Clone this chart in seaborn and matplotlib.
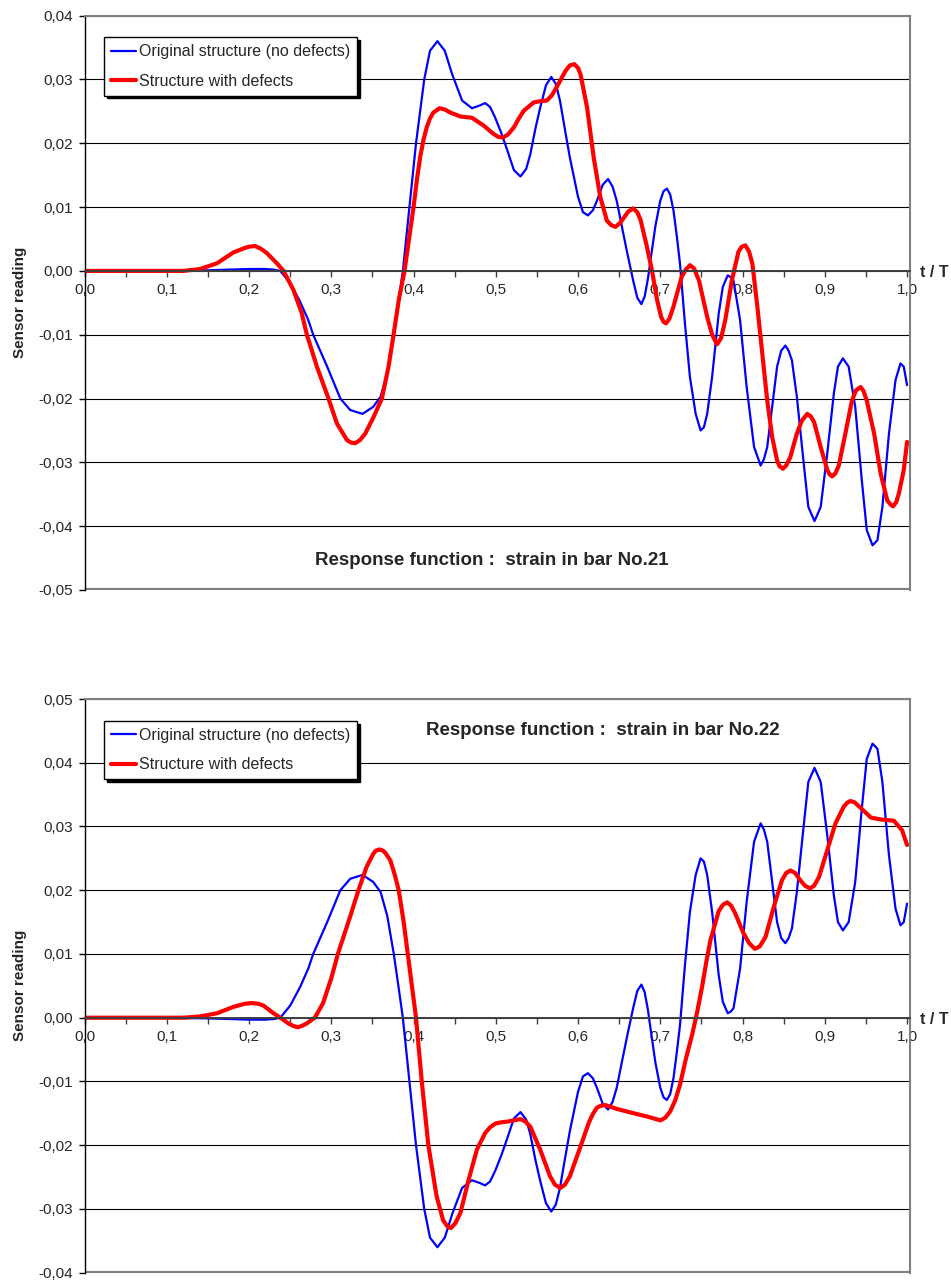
import matplotlib
matplotlib.use("Agg")
import numpy as np
import pandas as pd
import matplotlib.pyplot as plt
import matplotlib.transforms as mtransforms
from matplotlib.ticker import MultipleLocator, FuncFormatter
import seaborn as sns

# ---- data (t/T, sensor reading) ----
bar21_orig_t = [0.0, 0.10, 0.15, 0.20, 0.22, 0.23, 0.238, 0.25, 0.262, 0.272, 0.278, 0.295, 0.311, 0.323,
                0.338, 0.351, 0.360, 0.368, 0.376, 0.382, 0.387, 0.395, 0.403, 0.413, 0.420, 0.429, 0.438,
                0.447, 0.459, 0.471, 0.480, 0.487, 0.493, 0.499, 0.507, 0.514, 0.522, 0.530, 0.537, 0.542,
                0.548, 0.554, 0.561, 0.5675, 0.573, 0.578, 0.584, 0.590, 0.600, 0.606, 0.612, 0.618, 0.623,
                0.630, 0.6365, 0.642, 0.647, 0.654, 0.660, 0.667, 0.672, 0.677, 0.681, 0.685, 0.689, 0.694,
                0.700, 0.704, 0.708, 0.712, 0.716, 0.720, 0.724, 0.730, 0.736, 0.743, 0.749, 0.753, 0.757,
                0.763, 0.771, 0.776, 0.782, 0.786, 0.789, 0.797, 0.805, 0.814, 0.822, 0.826, 0.830, 0.836,
                0.842, 0.847, 0.852, 0.856, 0.860, 0.866, 0.874, 0.880, 0.8875, 0.895, 0.903, 0.911, 0.916,
                0.922, 0.929, 0.937, 0.945, 0.951, 0.958, 0.964, 0.970, 0.978, 0.986, 0.992, 0.996, 1.000]
bar21_orig = [0.0, 0.0, 0.0001, 0.0003, 0.0003, 0.0002, 0.0, -0.0019, -0.0048, -0.0077, -0.0100, -0.0150,
              -0.0200, -0.0218, -0.0224, -0.0213, -0.0197, -0.0160, -0.0100, -0.0046, 0.0, 0.0100, 0.0200,
              0.0300, 0.0345, 0.0360, 0.0345, 0.0308, 0.0267, 0.0255, 0.0259, 0.0263, 0.0257, 0.0241, 0.0215,
              0.0189, 0.0158, 0.0148, 0.0160, 0.0183, 0.0222, 0.0256, 0.0291, 0.0304, 0.0293, 0.0267, 0.0222,
              0.0178, 0.0116, 0.0092, 0.0087, 0.0095, 0.0110, 0.0135, 0.0144, 0.0132, 0.0110, 0.0065, 0.0027,
              -0.0015, -0.0042, -0.0052, -0.0040, -0.0012, 0.0025, 0.0070, 0.0110, 0.0125, 0.0129, 0.0120,
              0.0095, 0.0055, 0.0011, -0.0083, -0.0166, -0.0224, -0.0250, -0.0245, -0.0224, -0.0166, -0.0067,
              -0.0025, -0.0007, -0.0010, -0.0015, -0.0077, -0.0182, -0.0276, -0.0305, -0.0295, -0.0276,
              -0.0213, -0.0150, -0.0125, -0.0117, -0.0125, -0.0140, -0.0197, -0.0297, -0.0370, -0.0392,
              -0.0370, -0.0286, -0.0192, -0.0150, -0.0137, -0.0150, -0.0213, -0.0328, -0.0406, -0.0430,
              -0.0422, -0.0370, -0.0255, -0.0171, -0.0145, -0.0150, -0.0179]

bar21_def_t = [0.0, 0.12, 0.1405, 0.161, 0.181, 0.195, 0.200, 0.2074, 0.214, 0.2216, 0.2338, 0.242, 0.254,
               0.264, 0.2703, 0.2825, 0.2966, 0.3068, 0.319, 0.324, 0.329, 0.335, 0.3412, 0.3514, 0.3615,
               0.3696, 0.3757, 0.382, 0.389, 0.400, 0.404, 0.408, 0.412, 0.416, 0.420, 0.424, 0.4317, 0.438,
               0.445, 0.457, 0.471, 0.485, 0.497, 0.503, 0.5088, 0.515, 0.522, 0.528, 0.534, 0.546, 0.554,
               0.562, 0.568, 0.574, 0.585, 0.590, 0.5955, 0.600, 0.603, 0.611, 0.619, 0.627, 0.635, 0.640,
               0.6454, 0.651, 0.656, 0.661, 0.667, 0.672, 0.676, 0.683, 0.690, 0.696, 0.701, 0.704, 0.707,
               0.711, 0.716, 0.726, 0.731, 0.736, 0.741, 0.747, 0.757, 0.763, 0.769, 0.774, 0.779, 0.787,
               0.795, 0.799, 0.8035, 0.808, 0.812, 0.818, 0.824, 0.830, 0.836, 0.842, 0.845, 0.849, 0.853,
               0.858, 0.866, 0.872, 0.8786, 0.883, 0.887, 0.895, 0.903, 0.906, 0.909, 0.913, 0.917, 0.925,
               0.933, 0.938, 0.9435, 0.947, 0.951, 0.960, 0.968, 0.976, 0.980, 0.983, 0.987, 0.990, 0.996,
               1.000]
bar21_def = [0.0, 0.0, 0.0003, 0.0012, 0.0029, 0.0036, 0.0038, 0.0039, 0.0035, 0.0028, 0.0012, 0.0, -0.0030,
             -0.0066, -0.0100, -0.0150, -0.0200, -0.0239, -0.0265, -0.0269, -0.0270, -0.0265, -0.0255, -0.0229,
             -0.0200, -0.0150, -0.0100, -0.0046, 0.0, 0.0100, 0.0142, 0.0178, 0.0205, 0.0225, 0.0239, 0.0248,
             0.0255, 0.0253, 0.0248, 0.0242, 0.0240, 0.0228, 0.0215, 0.0210, 0.0209, 0.0214, 0.0225, 0.0239,
             0.0251, 0.0264, 0.0266, 0.0267, 0.0275, 0.0288, 0.0314, 0.0322, 0.0324, 0.0318, 0.0308, 0.0256,
             0.0178, 0.0116, 0.0079, 0.0072, 0.0069, 0.0075, 0.0084, 0.0093, 0.0098, 0.0092, 0.0080, 0.0042,
             0.0, -0.0045, -0.0072, -0.0080, -0.0082, -0.0075, -0.0056, -0.0009, 0.0002, 0.0009, 0.0004,
             -0.0015, -0.0072, -0.0100, -0.0115, -0.0105, -0.0077, -0.0015, 0.0030, 0.0038, 0.0040, 0.0030,
             0.0011, -0.0056, -0.0130, -0.0203, -0.0260, -0.0297, -0.0306, -0.0310, -0.0305, -0.0292, -0.0255,
             -0.0235, -0.0224, -0.0228, -0.0237, -0.0276, -0.0312, -0.0319, -0.0322, -0.0317, -0.0305, -0.0255,
             -0.0203, -0.0187, -0.0182, -0.0188, -0.0203, -0.0255, -0.0318, -0.0360, -0.0366, -0.0369, -0.0362,
             -0.0349, -0.0312, -0.0268]

bar22_orig_t = bar21_orig_t
bar22_orig = [0.0, 0.0, -0.0001, -0.0003, -0.0003, -0.0002, 0.0, 0.0019, 0.0048, 0.0077, 0.0100, 0.0150,
              0.0200, 0.0218, 0.0224, 0.0213, 0.0197, 0.0160, 0.0100, 0.0046, 0.0, -0.0100, -0.0200,
              -0.0300, -0.0345, -0.0360, -0.0345, -0.0308, -0.0267, -0.0255, -0.0259, -0.0263, -0.0257,
              -0.0241, -0.0215, -0.0189, -0.0158, -0.0148, -0.0160, -0.0183, -0.0222, -0.0256, -0.0291,
              -0.0304, -0.0293, -0.0267, -0.0222, -0.0178, -0.0116, -0.0092, -0.0087, -0.0095, -0.0110,
              -0.0135, -0.0144, -0.0132, -0.0110, -0.0065, -0.0027, 0.0015, 0.0042, 0.0052, 0.0040, 0.0012,
              -0.0025, -0.0070, -0.0110, -0.0125, -0.0129, -0.0120, -0.0095, -0.0055, -0.0011, 0.0083, 0.0166,
              0.0224, 0.0250, 0.0245, 0.0224, 0.0166, 0.0067, 0.0025, 0.0007, 0.0010, 0.0015, 0.0077, 0.0182,
              0.0276, 0.0305, 0.0295, 0.0276, 0.0213, 0.0150, 0.0125, 0.0117, 0.0125, 0.0140, 0.0197, 0.0297,
              0.0370, 0.0392, 0.0370, 0.0286, 0.0192, 0.0150, 0.0137, 0.0150, 0.0213, 0.0328, 0.0406, 0.0430,
              0.0422, 0.0370, 0.0255, 0.0171, 0.0145, 0.0150, 0.0179]

bar22_def_t = [0.0, 0.12, 0.1405, 0.161, 0.181, 0.195, 0.2034, 0.211, 0.2176, 0.2298, 0.238, 0.248, 0.254,
               0.259, 0.264, 0.270, 0.280, 0.290, 0.300, 0.308, 0.323, 0.333, 0.343, 0.351, 0.354, 0.3587,
               0.363, 0.366, 0.3717, 0.377, 0.382, 0.388, 0.393, 0.398, 0.403, 0.410, 0.418, 0.428, 0.436,
               0.441, 0.4455, 0.451, 0.457, 0.467, 0.477, 0.487, 0.493, 0.4995, 0.507, 0.514, 0.522, 0.530,
               0.536, 0.542, 0.554, 0.566, 0.572, 0.5785, 0.584, 0.590, 0.603, 0.613, 0.618, 0.623, 0.628,
               0.633, 0.647, 0.668, 0.684, 0.692, 0.700, 0.706, 0.712, 0.718, 0.724, 0.731, 0.739, 0.745,
               0.751, 0.756, 0.761, 0.771, 0.776, 0.7813, 0.786, 0.791, 0.801, 0.808, 0.815, 0.821, 0.828,
               0.838, 0.848, 0.853, 0.8583, 0.864, 0.870, 0.876, 0.882, 0.887, 0.893, 0.903, 0.913, 0.923,
               0.927, 0.931, 0.936, 0.943, 0.956, 0.968, 0.984, 0.994, 1.000]
bar22_def = [0.0, 0.0, 0.0002, 0.0007, 0.0017, 0.0022, 0.0023, 0.0022, 0.0019, 0.0007, 0.0, -0.0009, -0.0013,
             -0.0015, -0.0013, -0.0009, 0.0, 0.0023, 0.0062, 0.0100, 0.0159, 0.0200, 0.0237, 0.0257, 0.0262,
             0.0264, 0.0262, 0.0258, 0.0247, 0.0225, 0.0200, 0.0150, 0.0100, 0.0050, 0.0, -0.0100, -0.0200,
             -0.0280, -0.0318, -0.0327, -0.0330, -0.0322, -0.0306, -0.0254, -0.0207, -0.0181, -0.0172, -0.0166,
             -0.0164, -0.0163, -0.0161, -0.0159, -0.0163, -0.0171, -0.0207, -0.0249, -0.0262, -0.0267, -0.0262,
             -0.0249, -0.0202, -0.0165, -0.0151, -0.0141, -0.0138, -0.0137, -0.0143, -0.0150, -0.0155, -0.0158,
             -0.0161, -0.0157, -0.0147, -0.0130, -0.0105, -0.0065, -0.0025, 0.0010, 0.0050, 0.0088, 0.0122,
             0.0167, 0.0177, 0.0181, 0.0176, 0.0164, 0.0133, 0.0117, 0.0108, 0.0112, 0.0127, 0.0174, 0.0216,
             0.0227, 0.0231, 0.0227, 0.0216, 0.0207, 0.0203, 0.0207, 0.0221, 0.0263, 0.0305, 0.0331, 0.0337,
             0.0340, 0.0338, 0.0330, 0.0314, 0.0311, 0.0309, 0.0294, 0.0271]

labels = ["Original structure (no defects)", "Structure with defects"]
titles = ["Response function :  strain in bar No.21", "Response function :  strain in bar No.22"]

sns.set_style("white")
plt.rcParams["font.family"] = ["Liberation Sans", "DejaVu Sans"]

fig = plt.figure(figsize=(9.51, 12.84), dpi=100)
ax1 = fig.add_axes([0.0889, 0.5405, 0.868, 0.4473])
ax2 = fig.add_axes([0.0889, 0.0088, 0.868, 0.4468])


def comma(v, nd):
    s = f"{v:.{nd}f}".replace(".", ",")
    return s.replace("-0,00", "0,00") if nd == 2 else s


def panel(ax, bt, by, rt, ry, ylo, yhi, title, txy):
    blue = pd.DataFrame({"t": bt, "v": by})
    red = pd.DataFrame({"t": rt, "v": ry})
    sns.lineplot(data=blue, x="t", y="v", ax=ax, color="#0000FF", lw=1.6,
                 estimator=None, sort=False, label=labels[0], solid_joinstyle="round")
    sns.lineplot(data=red, x="t", y="v", ax=ax, color="#FF0000", lw=3.0,
                 estimator=None, sort=False, label=labels[1], solid_joinstyle="round")
    ax.set_xlim(0, 1.0036)
    ax.set_ylim(ylo, yhi)
    ax.yaxis.set_major_locator(MultipleLocator(0.01))
    ax.xaxis.set_major_locator(MultipleLocator(0.1))
    ax.xaxis.set_minor_locator(MultipleLocator(0.05))
    ax.yaxis.grid(True, color="black", lw=0.8)
    ax.set_axisbelow(True)
    ax.xaxis.set_major_formatter(FuncFormatter(lambda v, p: comma(v, 1)))
    ax.yaxis.set_major_formatter(FuncFormatter(lambda v, p: comma(v, 2)))
    for s in ["top", "right"]:
        ax.spines[s].set_color("#808080")
        ax.spines[s].set_linewidth(1.5)
    ax.spines["left"].set_color("black")
    ax.spines["left"].set_linewidth(1.0)
    ax.spines["bottom"].set_position(("data", 0))
    ax.spines["bottom"].set_color("#404040")
    ax.spines["bottom"].set_linewidth(1.4)
    ax.axhline(ylo, color="#808080", lw=3.0, clip_on=True)
    ax.tick_params(axis="x", which="both", direction="out", length=4, width=1,
                   color="#404040", labelsize=11, pad=5, bottom=True)
    ax.tick_params(axis="y", direction="out", length=4, width=1, color="black",
                   labelsize=11, pad=4, left=True)
    ax.set_xlabel("")
    ax.set_ylabel("Sensor reading", fontsize=11, fontweight="bold")
    ax.yaxis.set_label_coords(-0.070, 0.5)
    tr = mtransforms.blended_transform_factory(ax.transAxes, ax.transData)
    ax.text(1.012, -0.0003, "t / T", transform=tr, ha="left", va="center",
            fontsize=11.5, fontweight="bold")
    ax.text(txy[0], txy[1], title, transform=ax.transAxes, ha="center", va="center",
            fontsize=13.5, fontweight="bold")
    leg = ax.legend(loc="upper left", bbox_to_anchor=(0.0236, 0.962), fontsize=11.5,
                    frameon=True, fancybox=False, shadow={"color": "black", "alpha": 1},
                    edgecolor="black", handlelength=1.6, handletextpad=0.2,
                    labelspacing=0.92, borderpad=0.42, borderaxespad=0)
    leg.get_frame().set_linewidth(1.0)
    leg.get_frame().set_alpha(1)


panel(ax1, bar21_orig_t, bar21_orig, bar21_def_t, bar21_def, -0.05, 0.04, titles[0], (0.493, 0.0505))
panel(ax2, bar22_orig_t, bar22_orig, bar22_def_t, bar22_def, -0.04, 0.05, titles[1], (0.628, 0.9447))

fig.savefig("out.png", dpi=100)
